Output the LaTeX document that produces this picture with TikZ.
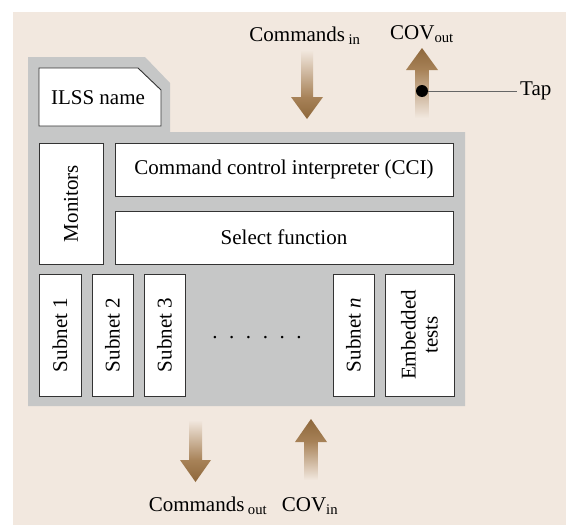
\documentclass[tikz,border=0pt]{standalone}
\usepackage{fontspec}
\setmainfont{Liberation Serif}
\usetikzlibrary{positioning}

\definecolor{sandbg}{HTML}{F2E8DF}
\definecolor{panelgray}{HTML}{C6C7C7}
\definecolor{flowbrown}{HTML}{9A7040}

\tikzset{
  unit/.style={draw=black!80, fill=white, line width=0.9pt, inner sep=0pt, align=center},
  upunit/.style={unit, rotate=90},
  shaftdown/.style={top color=sandbg, bottom color=flowbrown!85!sandbg, draw=none},
  shaftup/.style={top color=flowbrown!85!sandbg, bottom color=sandbg, draw=none},
  headdown/.style={top color=flowbrown!85!sandbg, bottom color=flowbrown!92!black, draw=none},
  headup/.style={top color=flowbrown!92!black, bottom color=flowbrown!85!sandbg, draw=none},
  tag/.style={inner sep=0pt}
}

\begin{document}
\begin{tikzpicture}[x=1pt, y=-1pt, font=\fontsize{21}{24}\selectfont]
    \useasboundingbox (0,0) rectangle (566,525);
    \fill[sandbg] (13,12) rectangle (566,525);
    % gray panel
    \fill[panelgray] (28,57) -- (145,57) -- (170,83) -- (170,132)
      -- (465,132) -- (465,406) -- (28,406) -- cycle;
    \filldraw[draw=black!80, fill=white, line width=0.9pt] (39,68) -- (138,68)
      -- (161,90) -- (161,126) -- (39,126) -- cycle;
    \node[tag] (ilss) at (98,98) {ILSS name};
    \node[unit, minimum width=121pt, minimum height=64pt, rotate=90] (mon) at (71,203.5) {Monitors};
    \node[unit, minimum width=338pt, minimum height=53pt] (cci) at (284,169.5)
    {Command control interpreter (CCI)};
    \node[unit, minimum width=338pt, minimum height=53pt] (sel) at (284,237.5)
    {Select function};
    \node[upunit, minimum width=122pt, minimum height=42pt] (sub1) at (60,335) {Subnet 1};
    \node[upunit, minimum width=122pt, minimum height=41pt] (sub2) at (112.5,335) {Subnet 2};
    \node[upunit, minimum width=122pt, minimum height=41pt] (sub3) at (164.5,335) {Subnet 3};
    \node[tag] (dots) at (257,338) {.\hspace{0.55em}.\hspace{0.55em}.\hspace{0.55em}.\hspace{0.55em}.\hspace{0.55em}.};
    \node[upunit, minimum width=122pt, minimum height=41pt] (subn) at (353.5,335) {Subnet \textit{n}};
    \node[upunit, minimum width=122pt, minimum height=69pt, font=\fontsize{21}{22}\selectfont] (emb) at (419.5,335)
    {Embedded\\tests};
    % flows
    \shade[shaftdown] (301,50) rectangle (313,97.5);
    \shade[headdown] (291,97) -- (323,97) -- (307,119) -- cycle;
    \shade[headup] (422,48) -- (438,70) -- (406,70) -- cycle;
    \shade[shaftup] (415.5,69.5) rectangle (428.5,118);
    \shade[shaftdown] (189,420) rectangle (202,460.5);
    \shade[headdown] (180,460) -- (211,460) -- (195.5,482) -- cycle;
    \shade[headup] (311,419) -- (327,442) -- (295,442) -- cycle;
    \shade[shaftup] (304.5,441.5) rectangle (317.5,480);
    \node[tag] (cmdin) at (305,36) {Commands\,\textsubscript{in}};
    \node[tag] (covout) at (422,34) {COV\textsubscript{out}};
    \node[tag] (cmdout) at (208,506) {Commands\,\textsubscript{out}};
    \node[tag] (covin) at (310,506) {COV\textsubscript{in}};
    % tap
    \node[circle, fill=black, inner sep=0pt, minimum size=12pt] (tapdot) at (422,91) {};
    \node[inner sep=3pt, anchor=west] (tap) at (517,91) {Tap};
    \draw[black!60, line width=0.8pt] (tapdot) -- (tap);
  \end{tikzpicture}
\end{document}
